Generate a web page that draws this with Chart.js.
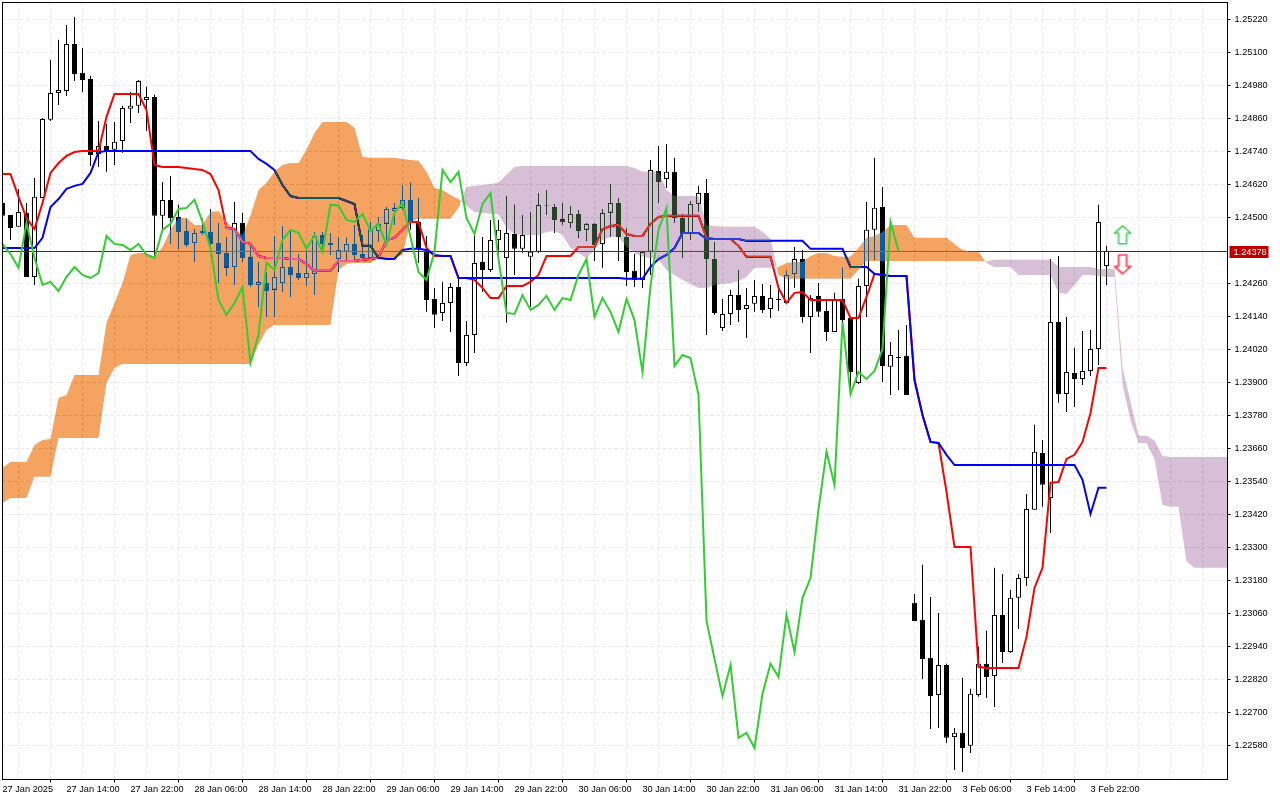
<!DOCTYPE html>
<html>
<head>
<meta charset="utf-8">
<title>EURUSD ichimoku</title>
<script src="https://cdn.jsdelivr.net/npm/chart.js@4"></script>
<style>
  html, body { margin: 0; padding: 0; background: #fff; }
  canvas { display: block; }
</style>
</head>
<body>
<canvas id="chart" width="1280" height="800"></canvas>
<script>
const timeLabels = ["27 Jan 2025","27 Jan 14:00","27 Jan 22:00","28 Jan 06:00","28 Jan 14:00","28 Jan 22:00","29 Jan 06:00","29 Jan 14:00","29 Jan 22:00","30 Jan 06:00","30 Jan 14:00","30 Jan 22:00","31 Jan 06:00","31 Jan 14:00","31 Jan 22:00","3 Feb 06:00","3 Feb 14:00","3 Feb 22:00"];
const priceTicks = [1.2522,1.2510,1.2498,1.2486,1.2474,1.2462,1.2450,1.2426,1.2414,1.2402,1.2390,1.2378,1.2366,1.2354,1.2342,1.2330,1.2318,1.2306,1.2294,1.2282,1.2270,1.2258];
const lastPrice = 1.24378;
// a hair under the quote so the 1px line lands on one pixel row
const lastPriceLevel = 1.243764;

const opens = [1.24553,1.24509,1.24466,1.24517,1.24284,1.24571,1.24855,1.24953,1.24960,1.25131,1.25026,1.25004,1.24731,1.24760,1.24746,1.24778,1.24895,1.24906,1.24927,1.24938,
1.24506,1.24564,1.24502,1.24451,1.24407,1.24444,1.24447,1.24407,1.24371,1.24320,1.24480,1.24357,1.24255,1.24262,1.24237,1.24262,1.24320,1.24298,1.24280,1.24295,
1.24436,1.24407,1.24349,1.24375,1.24404,1.24367,1.24353,1.24451,1.24477,1.24524,1.24535,1.24564,1.24484,1.24375,1.24204,1.24153,1.24189,1.24247,1.23971,1.24073,
1.24338,1.24309,1.24418,1.24353,1.24440,1.24386,1.24357,1.24375,1.24542,1.24538,1.24495,1.24480,1.24513,1.24455,1.24477,1.24404,1.24517,1.24553,1.24429,1.24306,
1.24273,1.24375,1.24669,1.24640,1.24666,1.24498,1.24444,1.24549,1.24589,1.24349,1.24098,1.24149,1.24218,1.24167,1.24186,1.24215,1.24167,1.24204,1.24189,1.24295,
1.24349,1.24138,1.24215,1.24160,1.24084,1.24204,1.24135,1.23898,1.24251,1.24455,1.24538,1.23957,1.23993,1.23997,1.23099,1.23037,1.22899,1.22764,1.22873,1.22611,
1.22626,1.22579,1.22764,1.22877,1.22833,1.23055,1.22920,1.23117,1.23189,1.23437,1.23644,1.23480,1.24120,1.23858,1.23935,1.23913,1.23942,1.24022,1.24324];
const highs = [1.24564,1.24509,1.24604,1.24553,1.24644,1.24862,1.25073,1.25146,1.25200,1.25229,1.25116,1.25015,1.24851,1.24840,1.24847,1.24906,1.24956,1.25000,1.24975,1.24946,
1.24629,1.24651,1.24546,1.24495,1.24458,1.24495,1.24531,1.24480,1.24429,1.24556,1.24517,1.24397,1.24338,1.24302,1.24433,1.24469,1.24455,1.24367,1.24389,1.24447,
1.24447,1.24444,1.24426,1.24426,1.24473,1.24436,1.24484,1.24502,1.24538,1.24553,1.24615,1.24626,1.24571,1.24433,1.24244,1.24266,1.24262,1.24277,1.24124,1.24444,
1.24429,1.24491,1.24491,1.24578,1.24546,1.24509,1.24520,1.24589,1.24600,1.24549,1.24553,1.24542,1.24527,1.24480,1.24480,1.24531,1.24622,1.24571,1.24462,1.24367,
1.24375,1.24709,1.24760,1.24767,1.24717,1.24513,1.24560,1.24615,1.24640,1.24411,1.24204,1.24237,1.24309,1.24244,1.24273,1.24258,1.24255,1.24237,1.24306,1.24393,
1.24382,1.24218,1.24262,1.24200,1.24226,1.24317,1.24135,1.24277,1.24556,1.24717,1.24611,1.24047,1.24091,1.24109,1.23131,1.23237,1.23120,1.23062,1.22877,1.22644,
1.22826,1.22786,1.22939,1.22997,1.23226,1.23204,1.23146,1.23204,1.23495,1.23746,1.23691,1.24349,1.24360,1.24138,1.24026,1.24087,1.24091,1.24546,1.24397];
const lows = [1.24491,1.24418,1.24466,1.24284,1.24255,1.24571,1.24851,1.24909,1.24942,1.24996,1.24956,1.24687,1.24684,1.24666,1.24691,1.24735,1.24844,1.24880,1.24815,1.24357,
1.24455,1.24404,1.24386,1.24393,1.24338,1.24436,1.24393,1.24262,1.24287,1.24255,1.24338,1.24247,1.24175,1.24138,1.24138,1.24229,1.24211,1.24273,1.24251,1.24218,
1.24375,1.24364,1.24302,1.24346,1.24346,1.24346,1.24353,1.24411,1.24400,1.24473,1.24527,1.24455,1.24335,1.24157,1.24098,1.24124,1.24084,1.23924,1.23960,1.24007,
1.24229,1.24302,1.24338,1.24117,1.24291,1.24371,1.24175,1.24371,1.24509,1.24444,1.24473,1.24462,1.24426,1.24415,1.24342,1.24317,1.24429,1.24342,1.24251,1.24247,
1.24244,1.24291,1.24553,1.24607,1.24480,1.24353,1.24418,1.24520,1.24073,1.24146,1.24087,1.24109,1.24120,1.24062,1.24157,1.24153,1.24135,1.24160,1.24189,1.24244,
1.24117,1.24007,1.24138,1.24051,1.24084,1.24120,1.23862,1.23895,1.24138,1.24346,1.23902,1.23855,1.23873,1.23855,1.23033,1.22822,1.22640,1.22644,1.22589,1.22491,
1.22484,1.22553,1.22757,1.22753,1.22720,1.22880,1.22917,1.23004,1.23160,1.23437,1.23448,1.23353,1.23826,1.23793,1.23811,1.23891,1.23924,1.23964,1.24255];
const closes = [1.24506,1.24462,1.24520,1.24284,1.24575,1.24858,1.24953,1.24964,1.25131,1.25022,1.25000,1.24727,1.24760,1.24738,1.24775,1.24898,1.24906,1.24996,1.24938,1.24506,
1.24564,1.24498,1.24447,1.24400,1.24444,1.24451,1.24404,1.24367,1.24317,1.24480,1.24353,1.24255,1.24266,1.24233,1.24284,1.24320,1.24291,1.24280,1.24298,1.24433,
1.24404,1.24400,1.24382,1.24404,1.24364,1.24353,1.24455,1.24477,1.24531,1.24535,1.24564,1.24484,1.24389,1.24200,1.24146,1.24189,1.24247,1.23971,1.24073,1.24335,
1.24309,1.24418,1.24455,1.24444,1.24386,1.24436,1.24375,1.24546,1.24544,1.24491,1.24484,1.24513,1.24451,1.24477,1.24400,1.24517,1.24553,1.24429,1.24302,1.24273,
1.24375,1.24673,1.24629,1.24666,1.24498,1.24440,1.24549,1.24589,1.24349,1.24153,1.24149,1.24218,1.24164,1.24182,1.24215,1.24164,1.24207,1.24200,1.24291,1.24349,
1.24138,1.24207,1.24157,1.24084,1.24204,1.24127,1.23938,1.24251,1.24455,1.24535,1.23960,1.24000,1.23989,1.23855,1.23033,1.22895,1.22760,1.22873,1.22608,1.22626,
1.22571,1.22768,1.22877,1.22829,1.23055,1.22920,1.23117,1.23189,1.23440,1.23648,1.23528,1.24120,1.23858,1.23938,1.23913,1.23942,1.24022,1.24484,1.24378];

const tenkan = [1.24658,1.24658,1.24575,1.24498,1.24458,1.24553,1.24662,1.24698,1.24724,1.24738,1.24742,1.24742,1.24742,1.24866,1.24949,1.24949,1.24949,1.24949,1.24891,1.24691,
1.24684,1.24684,1.24684,1.24680,1.24676,1.24673,1.24658,1.24600,1.24462,1.24458,1.24411,1.24404,1.24360,1.24353,1.24353,1.24353,1.24349,1.24349,1.24331,1.24306,
1.24306,1.24306,1.24342,1.24342,1.24342,1.24346,1.24349,1.24353,1.24418,1.24426,1.24455,1.24484,1.24484,1.24389,1.24360,1.24360,1.24360,1.24280,1.24280,1.24273,
1.24244,1.24207,1.24207,1.24251,1.24251,1.24251,1.24266,1.24291,1.24360,1.24360,1.24360,1.24360,1.24393,1.24393,1.24393,1.24458,1.24469,1.24473,1.24440,1.24433,
1.24433,1.24477,1.24502,1.24506,1.24506,1.24506,1.24506,1.24506,1.24426,1.24422,1.24422,1.24422,1.24397,1.24357,1.24357,1.24357,1.24357,1.24244,1.24189,1.24226,
1.24229,1.24200,1.24200,1.24200,1.24200,1.24200,1.24135,1.24135,1.24211,1.24295,1.24291,1.24287,1.24287,1.24287,1.23909,1.23782,1.23684,1.23680,1.23502,1.23302,
1.23302,1.23302,1.22866,1.22862,1.22862,1.22862,1.22862,1.22862,1.22975,1.23153,1.23226,1.23535,1.23538,1.23622,1.23637,1.23684,1.23789,1.23953,1.23953];
const kijun = [1.24389,1.24389,1.24389,1.24389,1.24389,1.24426,1.24538,1.24567,1.24604,1.24615,1.24622,1.24662,1.24738,1.24742,1.24742,1.24742,1.24742,1.24742,1.24742,1.24742,
1.24742,1.24742,1.24742,1.24742,1.24742,1.24742,1.24742,1.24742,1.24742,1.24742,1.24742,1.24742,1.24713,1.24695,1.24673,1.24618,1.24578,1.24571,1.24571,1.24571,
1.24571,1.24571,1.24571,1.24560,1.24549,1.24397,1.24397,1.24353,1.24349,1.24349,1.24382,1.24386,1.24386,1.24382,1.24364,1.24360,1.24360,1.24280,1.24280,1.24280,
1.24280,1.24280,1.24280,1.24280,1.24280,1.24280,1.24280,1.24280,1.24280,1.24280,1.24280,1.24280,1.24280,1.24280,1.24280,1.24280,1.24280,1.24280,1.24277,1.24277,
1.24277,1.24320,1.24349,1.24364,1.24389,1.24444,1.24444,1.24444,1.24422,1.24422,1.24422,1.24422,1.24422,1.24415,1.24415,1.24415,1.24415,1.24415,1.24415,1.24415,
1.24415,1.24386,1.24386,1.24386,1.24386,1.24386,1.24320,1.24320,1.24320,1.24295,1.24291,1.24287,1.24287,1.24287,1.23909,1.23782,1.23684,1.23680,1.23637,1.23600,
1.23600,1.23600,1.23600,1.23600,1.23600,1.23600,1.23600,1.23600,1.23600,1.23600,1.23600,1.23600,1.23600,1.23600,1.23600,1.23546,1.23422,1.23517,1.23517];
const chikou = [1.24404,1.24367,1.24317,1.24480,1.24353,1.24255,1.24266,1.24233,1.24284,1.24320,1.24291,1.24280,1.24298,1.24433,
1.24404,1.24400,1.24382,1.24404,1.24364,1.24353,1.24455,1.24477,1.24531,1.24535,1.24564,1.24484,1.24389,1.24200,1.24146,1.24189,1.24247,1.23971,1.24073,1.24335,
1.24309,1.24418,1.24455,1.24444,1.24386,1.24436,1.24375,1.24546,1.24544,1.24491,1.24484,1.24513,1.24451,1.24477,1.24400,1.24517,1.24553,1.24429,1.24302,1.24273,
1.24375,1.24673,1.24629,1.24666,1.24498,1.24440,1.24549,1.24589,1.24349,1.24153,1.24149,1.24218,1.24164,1.24182,1.24215,1.24164,1.24207,1.24200,1.24291,1.24349,
1.24138,1.24207,1.24157,1.24084,1.24204,1.24127,1.23938,1.24251,1.24455,1.24535,1.23960,1.24000,1.23989,1.23855,1.23033,1.22895,1.22760,1.22873,1.22608,1.22626,
1.22571,1.22768,1.22877,1.22829,1.23055,1.22920,1.23117,1.23189,1.23440,1.23648,1.23528,1.24120,1.23858,1.23938,1.23913,1.23942,1.24022,1.24484,1.24378];

const senkouA = [1.23589,1.23611,1.23611,1.23611,1.23673,1.23691,1.23695,1.23844,1.23855,1.23927,1.23927,1.23927,1.23927,1.24117,1.24189,1.24262,1.24364,1.24371,1.24371,1.24357,
1.24393,1.24455,1.24498,1.24498,1.24473,1.24473,1.24520,1.24524,1.24484,1.24458,1.24436,1.24506,1.24600,1.24626,1.24666,1.24691,1.24698,1.24698,1.24746,1.24807,
1.24847,1.24847,1.24847,1.24847,1.24826,1.24720,1.24717,1.24717,1.24717,1.24717,1.24713,1.24709,1.24706,1.24666,1.24607,1.24600,1.24582,1.24567,
1.24542,1.24520,1.24517,1.24513,1.24513,1.24462,1.24440,1.24436,1.24436,1.24436,1.24447,1.24451,1.24436,1.24389,1.24371,1.24353,1.24382,1.24418,1.24429,1.24429,
1.24393,1.24371,1.24357,1.24353,1.24346,1.24309,1.24291,1.24273,1.24258,1.24244,1.24244,1.24255,1.24258,1.24262,1.24269,1.24284,1.24317,1.24317,1.24317,
1.24320,1.24335,1.24338,1.24338,1.24360,1.24371,1.24371,1.24360,1.24357,1.24357,1.24389,1.24426,1.24433,1.24447,1.24473,1.24473,1.24473,1.24426,1.24426,1.24426,
1.24426,1.24426,1.24404,1.24382,1.24375,1.24375,
1.24335,1.24320,1.24320,1.24320,1.24291,1.24291,1.24291,1.24291,1.24291,1.24226,1.24222,1.24255,1.24291,1.24291,1.24287,1.24284,1.24284,1.23895,1.23764,1.23680,
1.23680,1.23622,1.23455,1.23448,1.23448,1.23248,1.23226,1.23226,1.23226,1.23226,1.23226,1.23226];
const senkouB = [1.23462,1.23480,1.23480,1.23480,1.23557,1.23557,1.23557,1.23698,1.23698,1.23698,1.23698,1.23698,1.23698,1.23898,1.23953,1.23967,1.23967,1.23967,1.23967,1.23967,
1.23967,1.23967,1.23967,1.23967,1.23967,1.23967,1.23967,1.23967,1.23967,1.23967,1.23967,1.23967,1.24037,1.24091,1.24109,1.24109,1.24109,1.24109,1.24109,1.24109,
1.24109,1.24109,1.24309,1.24331,1.24335,1.24335,1.24335,1.24353,1.24353,1.24353,1.24364,1.24484,1.24495,1.24495,1.24495,1.24495,1.24495,1.24535,
1.24611,1.24615,1.24618,1.24622,1.24626,1.24655,1.24684,1.24687,1.24687,1.24687,1.24687,1.24687,1.24687,1.24687,1.24687,1.24687,1.24687,1.24687,1.24687,1.24687,
1.24687,1.24680,1.24666,1.24666,1.24666,1.24600,1.24578,1.24578,1.24578,1.24578,1.24473,1.24469,1.24466,1.24466,1.24466,1.24466,1.24466,1.24447,1.24422,
1.24291,1.24277,1.24277,1.24277,1.24277,1.24277,1.24277,1.24277,1.24277,1.24277,1.24309,1.24342,1.24342,1.24342,1.24342,1.24342,1.24342,1.24342,1.24342,1.24342,
1.24342,1.24342,1.24342,1.24342,1.24342,1.24342,
1.24340,1.24346,1.24346,1.24346,1.24346,1.24346,1.24346,1.24346,1.24346,1.24320,1.24320,1.24320,1.24320,1.24320,1.24313,1.24313,1.24313,1.23953,1.23829,1.23706,
1.23706,1.23688,1.23633,1.23629,1.23629,1.23629,1.23629,1.23629,1.23629,1.23629,1.23629,1.23629];

const arrowUp = 1.24436;
const arrowDown = 1.24329;
const arrowBar = 140;

const FONT = { family: "'Liberation Sans', sans-serif", size: 9.2 };
const GRID = "#e6e6e6";
// the terminal xors the cloud over the chart, these are the inverted cloud colours
const BULL_XOR = "#0b5b9f";
const BEAR_XOR = "#274027";

const barIndex = senkouA.map((_, i) => i);
const wicks = lows.map((l, i) => [l, highs[i]]);
const bodies = opens.map((o, i) => [o, closes[i]]);

const makeArrow = (up, color, fringe) => {
  const c = document.createElement("canvas");
  c.width = 20;
  c.height = 22;
  const g = c.getContext("2d");
  const pts = up
    ? [[10, 1.5], [18, 9], [14, 9], [14, 19.5], [6, 19.5], [6, 9], [2, 9]]
    : [[6, 1.5], [14, 1.5], [14, 13], [18, 13], [10, 20.5], [2, 13], [6, 13]];
  const path = () => {
    g.beginPath();
    pts.forEach((p, i) => (i ? g.lineTo(p[0], p[1]) : g.moveTo(p[0], p[1])));
    g.closePath();
  };
  path();
  g.fillStyle = "#fff";
  g.fill();
  g.save();
  g.translate(0.8, up ? 0.8 : -0.8);
  path();
  g.strokeStyle = fringe;
  g.lineWidth = 1;
  g.stroke();
  g.restore();
  path();
  g.strokeStyle = color;
  g.lineWidth = 1.2;
  g.stroke();
  return c;
};

const lineSet = (label, data, color, order) => ({
  type: "line", label, data, order,
  borderColor: color, borderWidth: 2, pointRadius: 0, tension: 0, fill: false,
});

const datasets = [
  { type: "bar", label: "wicks", data: wicks, order: 8, grouped: false,
    backgroundColor: "#000", borderWidth: 0, maxBarThickness: 1,
    barPercentage: 1, categoryPercentage: 1, inflateAmount: 0 },
  { type: "bar", label: "bodies", data: bodies, order: 7, grouped: false,
    backgroundColor: (c) => (closes[c.dataIndex] >= opens[c.dataIndex] ? "#fff" : "#000"),
    borderColor: "#000", borderWidth: 1, borderSkipped: false, maxBarThickness: 5,
    barPercentage: 1, categoryPercentage: 1, inflateAmount: 0 },
  { type: "line", label: "last", data: [{ x: 0, y: lastPriceLevel }, { x: 154, y: lastPriceLevel }], order: 6,
    borderColor: "#a80000", borderWidth: 1, pointRadius: 0, fill: false },
  lineSet("Tenkan", tenkan, "#ff0000", 5),
  lineSet("Kijun", kijun, "#0000ff", 4),
  { type: "line", label: "Senkou A", data: senkouA, order: 3, borderWidth: 0, pointRadius: 0, tension: 0,
    fill: { target: 6, above: BULL_XOR, below: BEAR_XOR } },
  { type: "line", label: "Senkou B", data: senkouB, order: 2, borderWidth: 0, pointRadius: 0, tension: 0, fill: false },
  lineSet("Chikou", chikou, "#32cd32", 1),
  { type: "line", label: "up", data: [{ x: arrowBar, y: arrowUp }], order: 0, showLine: false,
    pointRadius: 8, pointStyle: makeArrow(true, "#32cd32", "#7fe8e0") },
  { type: "line", label: "down", data: [{ x: arrowBar, y: arrowDown }], order: 0, showLine: false,
    pointRadius: 8, pointStyle: makeArrow(false, "#ff2020", "#ff80c0") },
];

const KIJUN_INDEX = 4;
const CLOUD_INDEX = 5;

const noScalePadding = (s) => {
  s.paddingLeft = 0;
  s.paddingRight = 0;
  s.paddingTop = 0;
  s.paddingBottom = 0;
};

const terminalLook = {
  id: "terminalLook",
  beforeDraw(chart) {
    const ctx = chart.ctx;
    ctx.save();
    ctx.fillStyle = "#fff";
    ctx.fillRect(0, 0, chart.width, chart.height);
    ctx.restore();
  },
  // filler paints in the cloud's beforeDatasetDraw, so the blend has to be set just before it
  afterDatasetDraw(chart, args) {
    if (args.index === KIJUN_INDEX) chart.ctx.globalCompositeOperation = "difference";
    if (args.index === CLOUD_INDEX) chart.ctx.globalCompositeOperation = "source-over";
  },
  afterDraw(chart) {
    const ctx = chart.ctx;
    const a = chart.chartArea;
    ctx.save();
    ctx.strokeStyle = "#000";
    ctx.lineWidth = 1;
    ctx.strokeRect(a.left, a.top, a.right - a.left, a.bottom - a.top);
    const y = chart.scales.y.getPixelForValue(lastPrice);
    ctx.fillStyle = "#c00000";
    ctx.fillRect(a.right + 2, Math.round(y) - 5, 39, 12);
    ctx.fillStyle = "#fff";
    ctx.font = FONT.size + "px " + FONT.family;
    ctx.textBaseline = "middle";
    ctx.fillText(lastPrice.toFixed(5), a.right + 6, Math.round(y) + 1);
    ctx.restore();
  },
};

new Chart(document.getElementById("chart"), {
  type: "line",
  data: { labels: barIndex, datasets },
  plugins: [terminalLook],
  options: {
    responsive: false,
    animation: false,
    events: [],
    layout: { autoPadding: false, padding: { left: 2.5, top: 2.5, right: 0, bottom: 0 } },
    plugins: {
      legend: { display: false },
      tooltip: { enabled: false },
      filler: { drawTime: "beforeDatasetDraw" },
    },
    scales: {
      x: {
        type: "linear",
        offset: false,
        min: 0,
        max: 153.125,
        afterFit: (s) => { s.height = 20.5; noScalePadding(s); },
        border: { display: false, dash: [3, 3] },
        grid: {
          color: GRID,
          tickLength: 3,
          tickColor: (c) => (c.tick && c.tick.value % 8 === 0 && timeLabels[c.tick.value / 8] ? "#000" : "rgba(0,0,0,0)"),
        },
        ticks: {
          stepSize: 4,
          includeBounds: false,
          autoSkip: false,
          maxRotation: 0,
          align: "start",
          padding: 1,
          color: "#000",
          font: FONT,
          callback: (v) => (v % 8 === 0 ? timeLabels[v / 8] || "" : ""),
        },
      },
      y: {
        position: "right",
        min: 1.224564,
        max: 1.252818,
        afterFit: (s) => { s.width = 52.5; noScalePadding(s); },
        afterBuildTicks: (s) => { s.ticks = priceTicks.map((value) => ({ value })); },
        border: { display: false, dash: [3, 3] },
        grid: { color: GRID, tickLength: 3, tickColor: "#000" },
        ticks: {
          padding: 4,
          color: "#000",
          font: FONT,
          callback: (v) => v.toFixed(5),
        },
      },
    },
  },
});
</script>
</body>
</html>
